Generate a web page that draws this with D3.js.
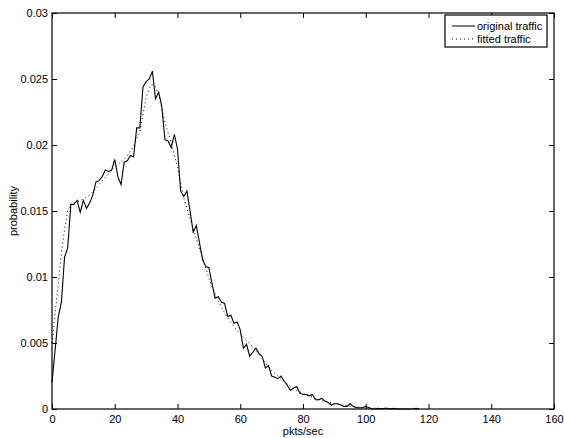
<!DOCTYPE html>
<html>
<head>
<meta charset="utf-8">
<script src="https://cdn.jsdelivr.net/npm/d3@7"></script>
<style>
  body { margin: 0; background: #fff; }
  svg text { font-family: "Liberation Sans", Arial, sans-serif; }
</style>
</head>
<body>
<svg id="chart" width="564" height="438"></svg>
<script>
// original traffic, one value per pkts/sec bin from 0
const origX = d3.range(0, 118);
const origY = [
  0.0020, 0.0045, 0.0070, 0.0081, 0.0115, 0.0122, 0.0155, 0.0155, 0.0158, 0.0149,
  0.0158, 0.0152, 0.0156, 0.0162, 0.0172, 0.0173, 0.0176, 0.0181, 0.0180, 0.0181,
  0.0189, 0.0176, 0.0170, 0.0187, 0.0188, 0.0192, 0.0191, 0.0213, 0.0213, 0.0244,
  0.0248, 0.0250, 0.0256, 0.0235, 0.0240, 0.0229, 0.0204, 0.0203, 0.0198, 0.0208,
  0.0197, 0.0165, 0.0161, 0.0165, 0.0150, 0.0134, 0.0139, 0.0126, 0.0113, 0.0108,
  0.0107, 0.0095, 0.0084, 0.0085, 0.0081, 0.0080, 0.0070, 0.0071, 0.0065, 0.0066,
  0.0060, 0.0046, 0.0049, 0.0040, 0.0043, 0.0046, 0.0042, 0.0040, 0.0031, 0.0033,
  0.0025, 0.0024, 0.0023, 0.0025, 0.0021, 0.0018, 0.0014, 0.0016, 0.0017, 0.0012,
  0.0011, 0.0011, 0.0010, 0.0011, 0.0007, 0.0007, 0.0008, 0.0006, 0.0005, 0.0003,
  0.0004, 0.0004, 0.0003, 0.0002, 0.0002, 0.0004, 0.0002, 0.0001, 0.0001, 0.0001,
  0.0002, 0.0001, 0.0000, 0.0000, 0.00005, 0.0000, 0.00005, 0.00005, 0.0000, 0.00005,
  0.0000, 0.0000, 0.0000, 0.0000, 0.0000, 0.0000, 0.00005, 0.0000
];

// fitted traffic
const fitX = [0, 1, 2, 3, 4, 5, 6, 8, 10, 12, 14, 16, 18, 20, 22, 24, 26, 28, 30, 31, 32, 33, 34,
  36, 38, 40, 42, 44, 46, 48, 50, 52, 54, 56, 58, 60, 62, 64, 66, 68, 70, 72, 74, 76, 78,
  80, 85, 90, 95, 100, 105, 110];
const fitY = [0.0050, 0.0072, 0.0095, 0.0118, 0.0136, 0.0150, 0.0155, 0.0157, 0.0159, 0.0162,
  0.0167, 0.0173, 0.0178, 0.0183, 0.0187, 0.0192, 0.0199, 0.0210, 0.0236, 0.0243, 0.0246,
  0.0244, 0.0238, 0.0217, 0.0202, 0.0183, 0.0160, 0.0144, 0.0129, 0.0115, 0.0099, 0.0087,
  0.0077, 0.0069, 0.0062, 0.0057, 0.0052, 0.0047, 0.0041, 0.0035, 0.0029, 0.0025, 0.0021,
  0.0017, 0.0014, 0.0012, 0.0007, 0.0004, 0.0002, 0.0001, 0.00003, 0.0];

const xTicks = [0, 20, 40, 60, 80, 100, 120, 140, 160];
const yTicks = [0, 0.005, 0.01, 0.015, 0.02, 0.025, 0.03];
const yTickLabels = ["0", "0.005", "0.01", "0.015", "0.02", "0.025", "0.03"];
const legendLabels = ["original traffic", "fitted traffic"];

const svg = d3.select('#chart');
const plot = { left: 52, right: 554, top: 13, bottom: 409 };

const x = d3.scaleLinear().domain([0, 160]).range([plot.left, plot.right]);
const y = d3.scaleLinear().domain([0, 0.03]).range([plot.bottom, plot.top]);

// box
svg.append('rect')
  .attr('x', plot.left).attr('y', plot.top)
  .attr('width', plot.right - plot.left).attr('height', plot.bottom - plot.top)
  .attr('fill', 'none').attr('stroke', '#000').attr('stroke-width', 1.2);

const tickLen = 5;

// bottom axis (ticks inward)
const xAxis = svg.append('g')
  .attr('transform', `translate(0,${plot.bottom})`)
  .call(d3.axisBottom(x).tickValues(xTicks).tickSize(-tickLen).tickPadding(6).tickFormat(d3.format('d')));
xAxis.select('.domain').remove();
xAxis.selectAll('text').style('font-size', '11px').attr('fill', '#000');

// top ticks
const xTop = svg.append('g')
  .attr('transform', `translate(0,${plot.top})`)
  .call(d3.axisTop(x).tickValues(xTicks).tickSize(-tickLen).tickFormat(''));
xTop.select('.domain').remove();

// left axis
const yAxis = svg.append('g')
  .attr('transform', `translate(${plot.left},0)`)
  .call(d3.axisLeft(y).tickValues(yTicks).tickSize(-tickLen).tickPadding(4)
    .tickFormat((d, i) => yTickLabels[i]));
yAxis.select('.domain').remove();
yAxis.selectAll('text').style('font-size', '11px').attr('fill', '#000');

// right ticks
const yRight = svg.append('g')
  .attr('transform', `translate(${plot.right},0)`)
  .call(d3.axisRight(y).tickValues(yTicks).tickSize(-tickLen).tickFormat(''));
yRight.select('.domain').remove();

// axis titles
svg.append('text')
  .attr('x', (plot.left + plot.right) / 2).attr('y', 435)
  .attr('text-anchor', 'middle')
  .style('font-size', '11px')
  .text('pkts/sec');

svg.append('text')
  .attr('transform', `translate(17,${(plot.top + plot.bottom) / 2}) rotate(-90)`)
  .attr('text-anchor', 'middle')
  .style('font-size', '11px')
  .text('probability');

// lines
const line = d3.line().x(d => x(d[0])).y(d => y(d[1]));

svg.append('path')
  .datum(fitX.map((v, i) => [v, fitY[i]]))
  .attr('fill', 'none')
  .attr('stroke', '#000')
  .attr('stroke-width', 1)
  .attr('stroke-dasharray', '1,3')
  .attr('d', line);

svg.append('path')
  .datum(origX.map((v, i) => [v, origY[i]]))
  .attr('fill', 'none')
  .attr('stroke', '#000')
  .attr('stroke-width', 1.1)
  .attr('d', line);

// legend
const lg = svg.append('g');
lg.append('rect')
  .attr('x', 445).attr('y', 15)
  .attr('width', 102).attr('height', 32)
  .attr('fill', '#fff').attr('stroke', '#000').attr('stroke-width', 1.2);

legendLabels.forEach((label, i) => {
  const ly = 26 + i * 13;
  lg.append('line')
    .attr('x1', 452).attr('x2', 475)
    .attr('y1', ly).attr('y2', ly)
    .attr('stroke', '#000')
    .attr('stroke-width', 1)
    .attr('stroke-dasharray', i === 0 ? null : '1,3');
  lg.append('text')
    .attr('x', 477).attr('y', ly + 4)
    .style('font-size', '11px')
    .text(label);
});
</script>
</body>
</html>
